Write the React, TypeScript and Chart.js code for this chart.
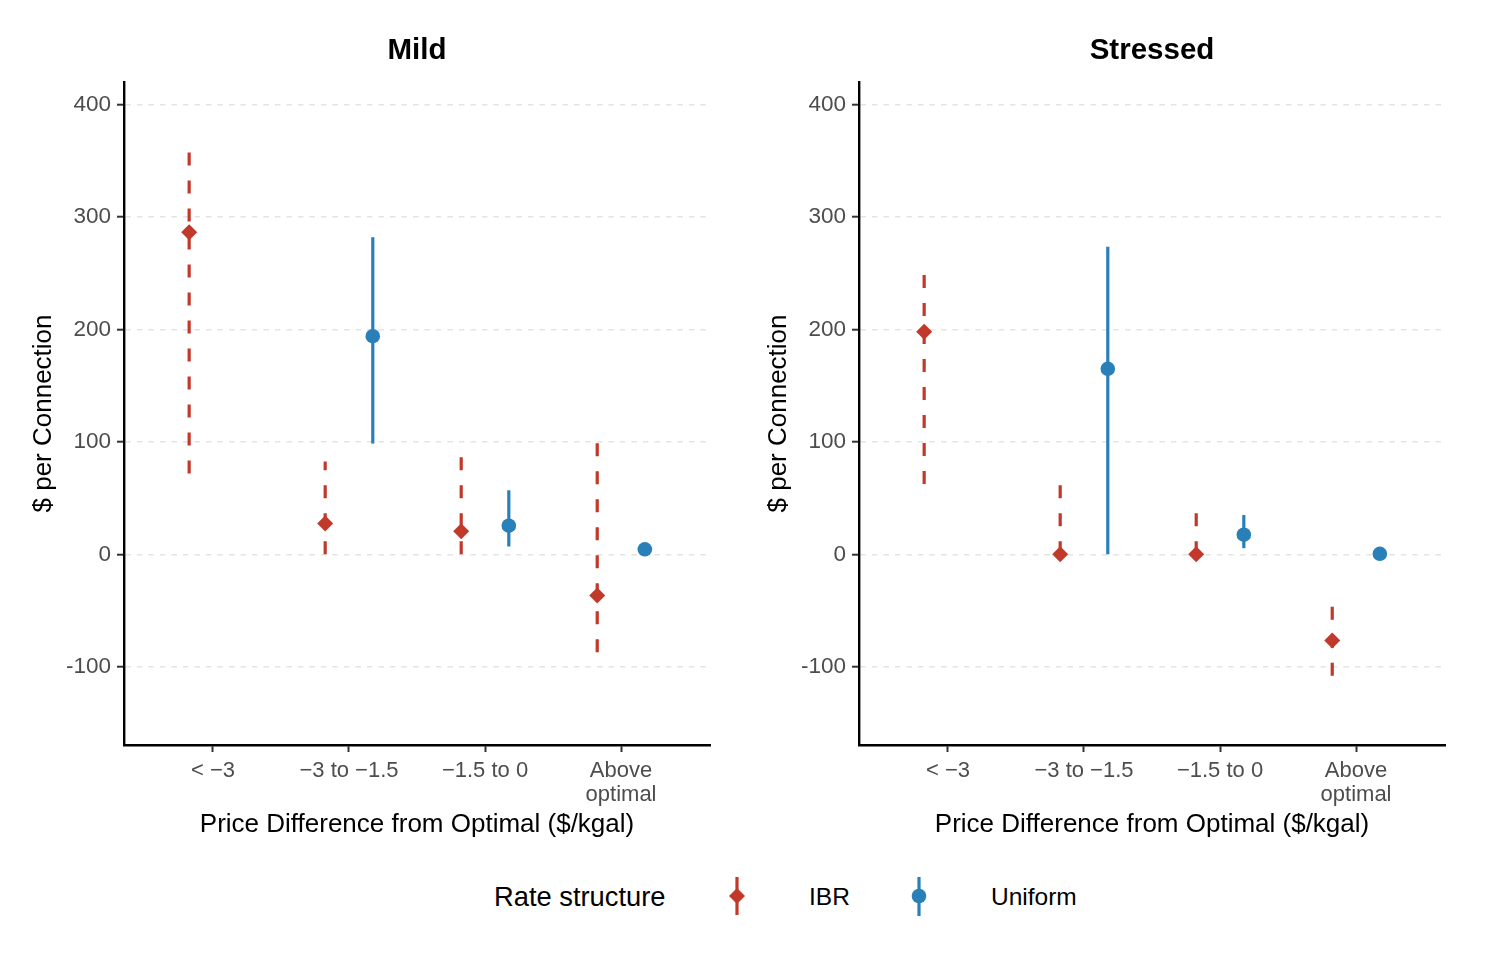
import React, { useEffect, useRef } from 'react';
import { Chart, registerables } from 'chart.js';

Chart.register(...registerables);

// ---------- data ----------
const categories: (string | string[])[] = ['< \u22123', '\u22123 to \u22121.5', '\u22121.5 to 0', ['Above', 'optimal']];
const categoryPositions = [1, 2, 3, 4];
const yTickValues = [-100, 0, 100, 200, 300, 400];
const panelTitles = ['Mild', 'Stressed'];
const seriesNames = ['IBR', 'Uniform'];

const ibrMildEst = [286.5, 27.5, 20.5, -36.5];
const ibrMildLow = [72, 0, 0, -87];
const ibrMildHigh = [362, 82.5, 88.5, 99.5];
const uniMildEst = [null, 194, 25.5, 4.5];
const uniMildLow = [null, 98.5, 7, 2.5];
const uniMildHigh = [null, 282, 57, 6.5];

const ibrStressEst = [198, 0, 0, -76.5];
const ibrStressLow = [62.5, 0, 0, -108];
const ibrStressHigh = [251.5, 61.5, 36.5, -45];
const uniStressEst = [null, 165, 17.5, 0.5];
const uniStressLow = [null, 0, 5.5, -1];
const uniStressHigh = [null, 273.5, 35, 2];

// ---------- styles ----------
const FONT = "'Liberation Sans', Arimo, Arial, Helvetica, sans-serif";
const RED = '#C0392B';
const BLUE = '#2980B9';
const DODGE = 0.175;
const X_MIN = 0.346;
const X_MAX = 4.654;
const Y_MIN = -169.5;
const Y_MAX = 420;

type Series = {
  name: string;
  est: (number | null)[];
  low: (number | null)[];
  high: (number | null)[];
  offset: number;
  color: string;
  dash: number[];
  pointStyle: string;
  radius: number;
};

function buildDatasets(series: Series[]) {
  const ds: any[] = [];
  series.forEach((s) => {
    categoryPositions.forEach((pos, i) => {
      const lo = s.low[i];
      const hi = s.high[i];
      if (lo == null || hi == null) return;
      ds.push({
        label: s.name + ' range ' + i,
        data: [
          { x: pos + s.offset, y: lo },
          { x: pos + s.offset, y: hi },
        ],
        showLine: true,
        borderColor: s.color,
        borderWidth: 3.2,
        borderDash: s.dash,
        borderCapStyle: 'butt',
        pointRadius: 0,
        pointHoverRadius: 0,
        fill: false,
        order: 2,
      });
    });
    const pts: { x: number; y: number }[] = [];
    categoryPositions.forEach((pos, i) => {
      const v = s.est[i];
      if (v == null) return;
      pts.push({ x: pos + s.offset, y: v });
    });
    ds.push({
      label: s.name,
      data: pts,
      showLine: false,
      pointStyle: s.pointStyle,
      pointRadius: s.radius,
      pointHoverRadius: s.radius,
      backgroundColor: s.color,
      borderColor: s.color,
      borderWidth: 0,
      order: 1,
    });
  });
  return ds;
}

function Panel(props: { title: string; left: number; series: Series[] }) {
  const ref = useRef<HTMLCanvasElement | null>(null);
  useEffect(() => {
    if (!ref.current) return;
    const chart = new Chart(ref.current, {
      type: 'scatter',
      data: { datasets: buildDatasets(props.series) },
      options: {
        animation: false,
        responsive: false,
        maintainAspectRatio: false,
        events: [],
        layout: { padding: { left: 0, right: 25, top: 0, bottom: 0 } },
        plugins: {
          legend: { display: false },
          tooltip: { enabled: false },
          title: {
            display: true,
            text: props.title,
            fullSize: false,
            color: '#000',
            font: { family: FONT, size: 29.5, weight: 'bold', lineHeight: 1.2 },
            padding: { top: 33.3, bottom: 13.3 },
          },
        },
        scales: {
          x: {
            type: 'linear',
            min: X_MIN,
            max: X_MAX,
            afterBuildTicks: (scale: any) => {
              scale.ticks = categoryPositions.map((v) => ({ value: v }));
            },
            afterFit: (scale: any) => {
              scale.height = 115;
            },
            ticks: {
              autoSkip: false,
              maxRotation: 0,
              minRotation: 0,
              padding: 7,
              color: '#4d4d4d',
              font: { family: FONT, size: 22, lineHeight: 1.1 },
              callback: (value: any) => {
                const idx = categoryPositions.indexOf(Number(value));
                return idx >= 0 ? (categories[idx] as any) : '';
              },
            },
            grid: {
              display: true,
              drawOnChartArea: false,
              drawTicks: true,
              tickLength: 7,
              tickColor: '#333333',
              tickWidth: 2,
            },
            border: { display: true, color: '#000', width: 2.4 },
            title: {
              display: true,
              text: 'Price Difference from Optimal ($/kgal)',
              color: '#000',
              font: { family: FONT, size: 26, lineHeight: 1.2 },
              padding: { top: 0, bottom: 19.4 },
            },
          },
          y: {
            type: 'linear',
            min: Y_MIN,
            max: Y_MAX,
            afterBuildTicks: (scale: any) => {
              scale.ticks = yTickValues.map((v) => ({ value: v }));
            },
            afterFit: (scale: any) => {
              scale.width = 124;
            },
            ticks: {
              padding: 6,
              color: '#4d4d4d',
              font: { family: FONT, size: 22.5, lineHeight: 1.1 },
              callback: (value: any) => String(value),
            },
            grid: {
              display: true,
              drawOnChartArea: true,
              color: '#e4e4e4',
              lineWidth: 1.4,
              drawTicks: true,
              tickLength: 7,
              tickColor: '#333333',
              tickWidth: 2,
              tickBorderDash: [],
            },
            border: { display: true, color: '#000', width: 2.4, dash: [5.5, 6] },
            title: {
              display: true,
              text: '$ per Connection',
              color: '#000',
              font: { family: FONT, size: 26, lineHeight: 1.2 },
              padding: { top: 28, bottom: 0 },
            },
          },
        },
      } as any,
    });
    return () => chart.destroy();
  }, []);
  return (
    <canvas
      ref={ref}
      width={735}
      height={860}
      style={{ position: 'absolute', left: props.left, top: 0, width: 735, height: 860 }}
    />
  );
}

function LegendKey(props: { color: string; dashed: boolean; shape: 'diamond' | 'circle'; left: number }) {
  return (
    <svg
      width={20}
      height={42}
      style={{ position: 'absolute', left: props.left - 10, top: 876 }}
    >
      <line
        x1={10}
        x2={10}
        y1={1}
        y2={40}
        stroke={props.color}
        strokeWidth={3.2}
        strokeDasharray={props.dashed ? '13 12' : undefined}
      />
      {props.shape === 'diamond' ? (
        <polygon points="10,12 18,20 10,28 2,20" fill={props.color} />
      ) : (
        <circle cx={10} cy={20} r={7.3} fill={props.color} />
      )}
    </svg>
  );
}

export default function App() {
  const mild: Series[] = [
    { name: seriesNames[0], est: ibrMildEst, low: ibrMildLow, high: ibrMildHigh, offset: -DODGE, color: RED, dash: [13, 15], pointStyle: 'rectRot', radius: 8 },
    { name: seriesNames[1], est: uniMildEst, low: uniMildLow, high: uniMildHigh, offset: DODGE, color: BLUE, dash: [], pointStyle: 'circle', radius: 7.3 },
  ];
  const stressed: Series[] = [
    { name: seriesNames[0], est: ibrStressEst, low: ibrStressLow, high: ibrStressHigh, offset: -DODGE, color: RED, dash: [13, 15], pointStyle: 'rectRot', radius: 8 },
    { name: seriesNames[1], est: uniStressEst, low: uniStressLow, high: uniStressHigh, offset: DODGE, color: BLUE, dash: [], pointStyle: 'circle', radius: 7.3 },
  ];
  const textStyle: React.CSSProperties = {
    position: 'absolute',
    top: 877,
    height: 40,
    lineHeight: '40px',
    fontFamily: FONT,
    color: '#000',
    whiteSpace: 'nowrap',
  };
  return (
    <div style={{ position: 'absolute', left: 0, top: 0, width: 1500, height: 960, background: '#fff' }}>
      <Panel title={panelTitles[0]} left={0} series={mild} />
      <Panel title={panelTitles[1]} left={735} series={stressed} />
      <span style={{ ...textStyle, left: 494, fontSize: 27.3 }}>Rate structure</span>
      <LegendKey color={RED} dashed={true} shape="diamond" left={737} />
      <span style={{ ...textStyle, left: 809, fontSize: 24.5 }}>{seriesNames[0]}</span>
      <LegendKey color={BLUE} dashed={false} shape="circle" left={919} />
      <span style={{ ...textStyle, left: 991, fontSize: 24.5 }}>{seriesNames[1]}</span>
    </div>
  );
}
